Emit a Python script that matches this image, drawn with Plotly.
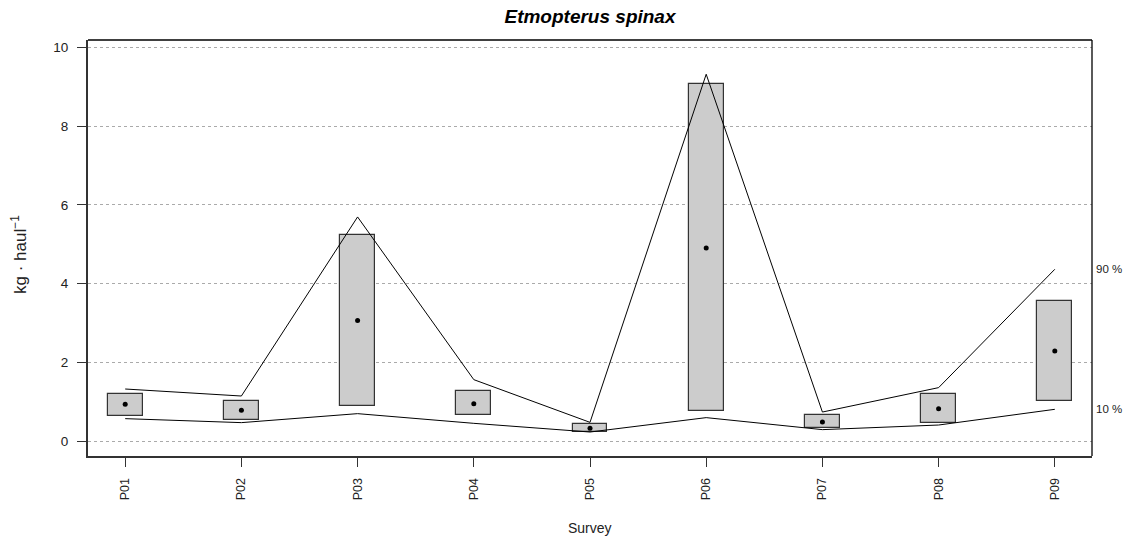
import plotly.graph_objects as go

# Survey catch rates of Etmopterus spinax (kg per haul)
surveys = ["P01", "P02", "P03", "P04", "P05", "P06", "P07", "P08", "P09"]
box_low = [0.645, 0.534, 0.90, 0.671, 0.239, 0.772, 0.34, 0.458, 1.009]
box_high = [1.187, 1.009, 5.247, 1.271, 0.424, 9.06, 0.653, 1.187, 3.559]
means = [0.933, 0.78, 3.06, 0.95, 0.323, 4.906, 0.483, 0.823, 2.288]
q90 = [1.322, 1.144, 5.694, 1.56, 0.475, 9.32, 0.737, 1.357, 4.364]
q10 = [0.569, 0.468, 0.696, 0.45, 0.229, 0.595, 0.29, 0.407, 0.806]
y_ticks = [0, 2, 4, 6, 8, 10]

FONT = "Liberation Sans, Arial, Helvetica, sans-serif"

fig = go.Figure()

# interval boxes
fig.add_trace(go.Bar(
    x=surveys,
    y=[h - l for h, l in zip(box_high, box_low)],
    base=box_low,
    width=0.3,
    marker=dict(color="#CCCCCC", line=dict(color="#333333", width=1.2)),
    showlegend=False,
    hoverinfo="skip",
))

# 90 % and 10 % quantile lines
for vals in (q90, q10):
    fig.add_trace(go.Scatter(
        x=surveys, y=vals, mode="lines",
        line=dict(color="black", width=1),
        showlegend=False, hoverinfo="skip",
    ))

# mean points
fig.add_trace(go.Scatter(
    x=surveys, y=means, mode="markers",
    marker=dict(color="black", size=5),
    showlegend=False,
))

# quantile labels on the right margin
for vals, label in ((q90, "90 %"), (q10, "10 %")):
    fig.add_annotation(
        x=1, xref="paper", y=vals[-1], yref="y",
        text=label, showarrow=False, xanchor="left", xshift=2,
        font=dict(family=FONT, size=11.5, color="#222222"),
    )

# axis titles
fig.add_annotation(
    x=0.5, xref="paper", y=-0.173, yref="paper", yanchor="middle",
    text="Survey", showarrow=False,
    font=dict(family=FONT, size=14, color="#222222"),
)
fig.add_annotation(
    x=0, xref="paper", xshift=-69, xanchor="center",
    y=0.5, yref="paper", yshift=-7, yanchor="middle",
    text="kg · haul<sup>−1</sup>", showarrow=False, textangle=-90,
    font=dict(family=FONT, size=17, color="#222222"),
)

# plot frame (top and right edges)
fig.add_shape(type="line", xref="paper", yref="paper", x0=0, x1=1, y0=1, y1=1,
              line=dict(color="black", width=1.3))
fig.add_shape(type="line", xref="paper", yref="paper", x0=1, x1=1, y0=0, y1=1,
              line=dict(color="black", width=1.3))

fig.update_layout(
    width=1130, height=539,
    margin=dict(l=88, r=38, t=40, b=83),
    plot_bgcolor="white", paper_bgcolor="white",
    bargap=0,
    title=dict(
        text="<b><i>Etmopterus spinax</i></b>",
        x=0.5, xref="paper", xanchor="center",
        y=1 - 16.7 / 539, yref="container", yanchor="middle",
        font=dict(family=FONT, size=19, color="black"),
    ),
    xaxis=dict(
        type="category", range=[-0.32, 8.32],
        showgrid=False, zeroline=False,
        showline=True, linecolor="#333333", linewidth=2,
        ticks="outside", ticklen=9, tickwidth=1.2, tickcolor="#333333",
        tickangle=-90, ticklabelstandoff=6,
        tickfont=dict(family=FONT, size=12.5, color="#222222"),
    ),
    yaxis=dict(
        range=[-0.38, 10.19],
        tickvals=y_ticks, ticktext=[str(v) for v in y_ticks],
        showgrid=True, gridcolor="#AAAAAA", griddash="dot", gridwidth=1,
        zeroline=False,
        showline=True, linecolor="#333333", linewidth=2,
        ticks="outside", ticklen=9, tickwidth=1.2, tickcolor="#333333",
        ticklabelstandoff=6,
        tickfont=dict(family=FONT, size=13.5, color="#222222"),
    ),
)

fig.write_html("out.html")
